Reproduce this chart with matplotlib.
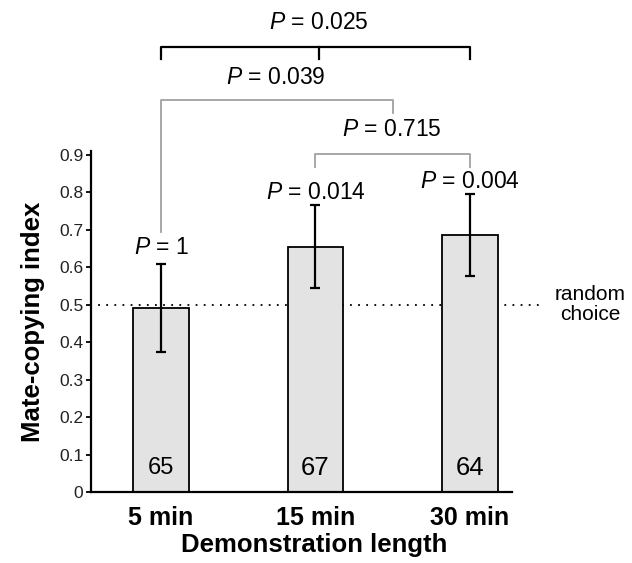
import matplotlib
matplotlib.use("Agg")
import matplotlib.pyplot as plt

plt.rcParams['font.family'] = ['Liberation Sans', 'DejaVu Sans']
plt.rcParams['mathtext.fontset'] = 'custom'
plt.rcParams['mathtext.rm'] = 'Liberation Sans'
plt.rcParams['mathtext.it'] = 'Liberation Sans:italic'

# data
categories = ['5 min', '15 min', '30 min']
index_mean = [0.491, 0.655, 0.686]
index_err = [0.118, 0.111, 0.110]
sample_n = ['65', '67', '64']
p_vs_random = ['1', '0.014', '0.004']
p_pairs = ['0.025', '0.039', '0.715']
y_ticks = [0, 0.1, 0.2, 0.3, 0.4, 0.5, 0.6, 0.7, 0.8, 0.9]
y_tick_labels = ['0', '0.1', '0.2', '0.3', '0.4', '0.5', '0.6', '0.7', '0.8', '0.9']
random_level = 0.5

fig = plt.figure(figsize=(6.32, 5.63), dpi=100)
ax = fig.add_axes([0.144, 0.126, 0.666, 0.606])

x = list(range(len(categories)))
ax.bar(x, index_mean, width=0.36, color='#e3e3e3', edgecolor='black',
       linewidth=1.3, zorder=2)
ax.errorbar(x, index_mean, yerr=index_err, fmt='none', ecolor='black',
            elinewidth=1.6, capsize=3.3, capthick=1.6, zorder=3)

# random choice line (behind bars)
ax.plot([-0.46, 2.45], [random_level, random_level], linestyle=(0, (1, 3.5)),
        color='black', linewidth=1.3, zorder=1, clip_on=False)
ax.text(2.78, random_level, 'random\nchoice', ha='center', va='center',
        fontsize=15, linespacing=1.05)

# n inside bars
n_sizes = [17, 18.5, 18.5]
for xi, n, fs in zip(x, sample_n, n_sizes):
    ax.text(xi, 0.064, n, ha='center', va='center', fontsize=fs, zorder=4)

fs_p = 16.5
# P versus random
p_y = [0.654, 0.801, 0.828]
for xi, p, py in zip(x, p_vs_random, p_y):
    ax.text(xi, py, r'$\mathit{P}$ = ' + p, ha='center', va='center', fontsize=fs_p)

grey = '#a0a0a0'
# 15 vs 30 min
ax.plot([1, 1, 2, 2], [0.868, 0.903, 0.903, 0.868], color=grey, lw=1.3, clip_on=False)
ax.text(1.495, 0.967, r'$\mathit{P}$ = ' + p_pairs[2], ha='center', va='center', fontsize=fs_p)
# 5 min vs longer
ax.plot([0, 0, 1.5, 1.5], [0.694, 1.047, 1.047, 1.012], color=grey, lw=1.3, clip_on=False)
ax.text(0.744, 1.108, r'$\mathit{P}$ = ' + p_pairs[1], ha='center', va='center', fontsize=fs_p)
# overall
ax.plot([0, 0, 2, 2], [1.157, 1.189, 1.189, 1.157], color='black', lw=1.6, clip_on=False)
ax.plot([1.02, 1.02], [1.157, 1.189], color='black', lw=1.6, clip_on=False)
ax.text(1.02, 1.253, r'$\mathit{P}$ = ' + p_pairs[0], ha='center', va='center', fontsize=fs_p)

ax.set_xlim(-0.453, 2.272)
ax.set_ylim(0, 0.911)
ax.set_yticks(y_ticks)
ax.set_yticklabels(y_tick_labels, fontsize=12.5, color='#222222')
ax.set_xticks(x)
ax.set_xticklabels(categories, fontsize=18, fontweight='bold')
ax.tick_params(axis='x', length=0, pad=10)
ax.tick_params(axis='y', length=3.6, width=1.3, pad=2)

for side in ['top', 'right']:
    ax.spines[side].set_visible(False)
for side in ['left', 'bottom']:
    ax.spines[side].set_linewidth(1.6)

ax.set_ylabel('Mate-copying index', fontsize=18.5, fontweight='bold')
ax.yaxis.set_label_coords(-0.11, 0.5)
ax.set_xlabel('Demonstration length', fontsize=18.5, fontweight='bold')
ax.xaxis.set_label_coords(0.53, -0.12)

fig.savefig('out.png', dpi=100)
